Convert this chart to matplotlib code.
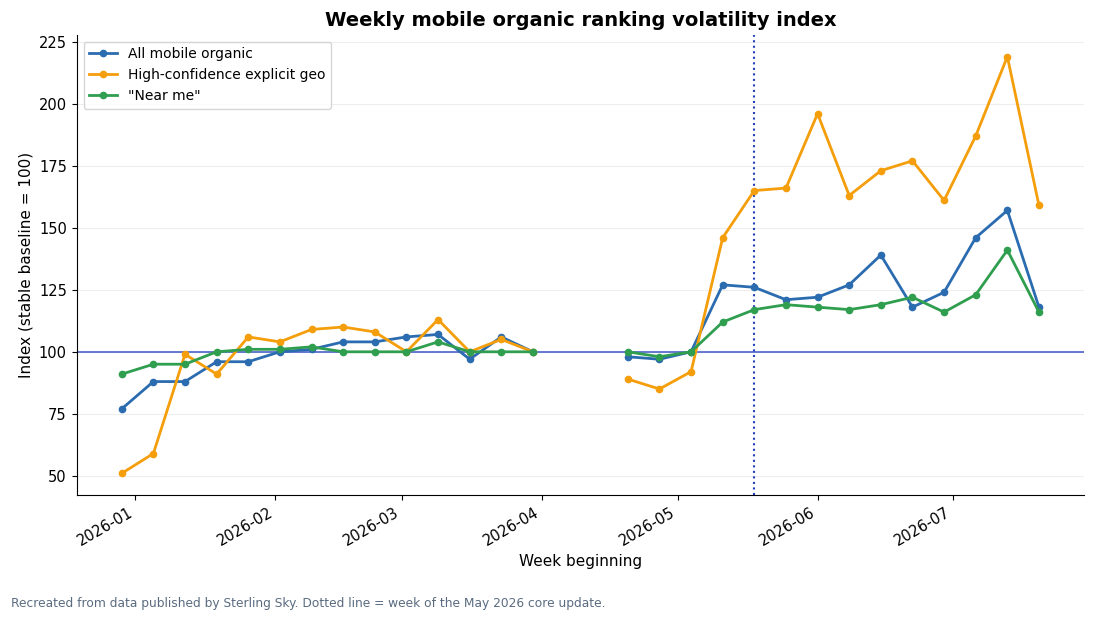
import numpy as np
import pandas as pd
import matplotlib
matplotlib.use("Agg")
import matplotlib.pyplot as plt
import matplotlib.dates as mdates

weeks = pd.date_range("2025-12-29", "2026-07-20", freq="7D")
nan = np.nan
all_mobile = [77, 88, 88, 96, 96, 100, 101, 104, 104, 106, 107, 97, 106, 100,
              nan, nan, 98, 97, 100, 127, 126, 121, 122, 127, 139, 118, 124, 146, 157, 118]
high_conf = [51, 59, 99, 91, 106, 104, 109, 110, 108, 100, 113, 100, 105, 100,
             nan, nan, 89, 85, 92, 146, 165, 166, 196, 163, 173, 177, 161, 187, 219, 159]
near_me = [91, 95, 95, 100, 101, 101, 102, 100, 100, 100, 104, 100, 100, 100,
           nan, nan, 100, 98, 100, 112, 117, 119, 118, 117, 119, 122, 116, 123, 141, 116]
update_week = pd.Timestamp("2026-05-18")

fig, ax = plt.subplots(figsize=(10.94, 6.21), dpi=100)
fig.subplots_adjust(left=0.07, right=0.991, top=0.944, bottom=0.203)
ax.axhline(100, color="#4a63c8", lw=1.2, zorder=1)
ax.plot(weeks, all_mobile, "-o", color="#2b6cb0", lw=2, ms=4.5, label="All mobile organic", zorder=3)
ax.plot(weeks, high_conf, "-o", color="#f59e0b", lw=2, ms=4.5, label="High-confidence explicit geo", zorder=3)
ax.plot(weeks, near_me, "-o", color="#2f9e4f", lw=2, ms=4.5, label='"Near me"', zorder=3)
ax.axvline(update_week, color="#2340b8", ls=":", lw=1.5, zorder=2)
ax.set_xlim(pd.Timestamp("2025-12-19"), pd.Timestamp("2026-07-30"))
ax.set_ylim(42.3, 227.8)
ax.set_yticks([50, 75, 100, 125, 150, 175, 200, 225])
ax.grid(axis="y", color="#eeeeee", lw=0.8)
ax.set_axisbelow(True)
ax.xaxis.set_major_locator(mdates.MonthLocator())
ax.xaxis.set_major_formatter(mdates.DateFormatter("%Y-%m"))
plt.setp(ax.get_xticklabels(), rotation=30, ha="right", fontsize=10.5)
plt.setp(ax.get_yticklabels(), fontsize=10.5)
ax.spines["top"].set_visible(False)
ax.spines["right"].set_visible(False)
ax.set_title("Weekly mobile organic ranking volatility index", fontsize=14, fontweight="bold")
ax.set_xlabel("Week beginning", fontsize=11)
ax.set_ylabel("Index (stable baseline = 100)", fontsize=11)
ax.legend(loc="upper left", fontsize=10)
fig.text(0.01, 0.022, "Recreated from data published by Sterling Sky. Dotted line = week of the May 2026 core update.",
         fontsize=8.8, color="#5a6b80")
fig.savefig("out.png")
